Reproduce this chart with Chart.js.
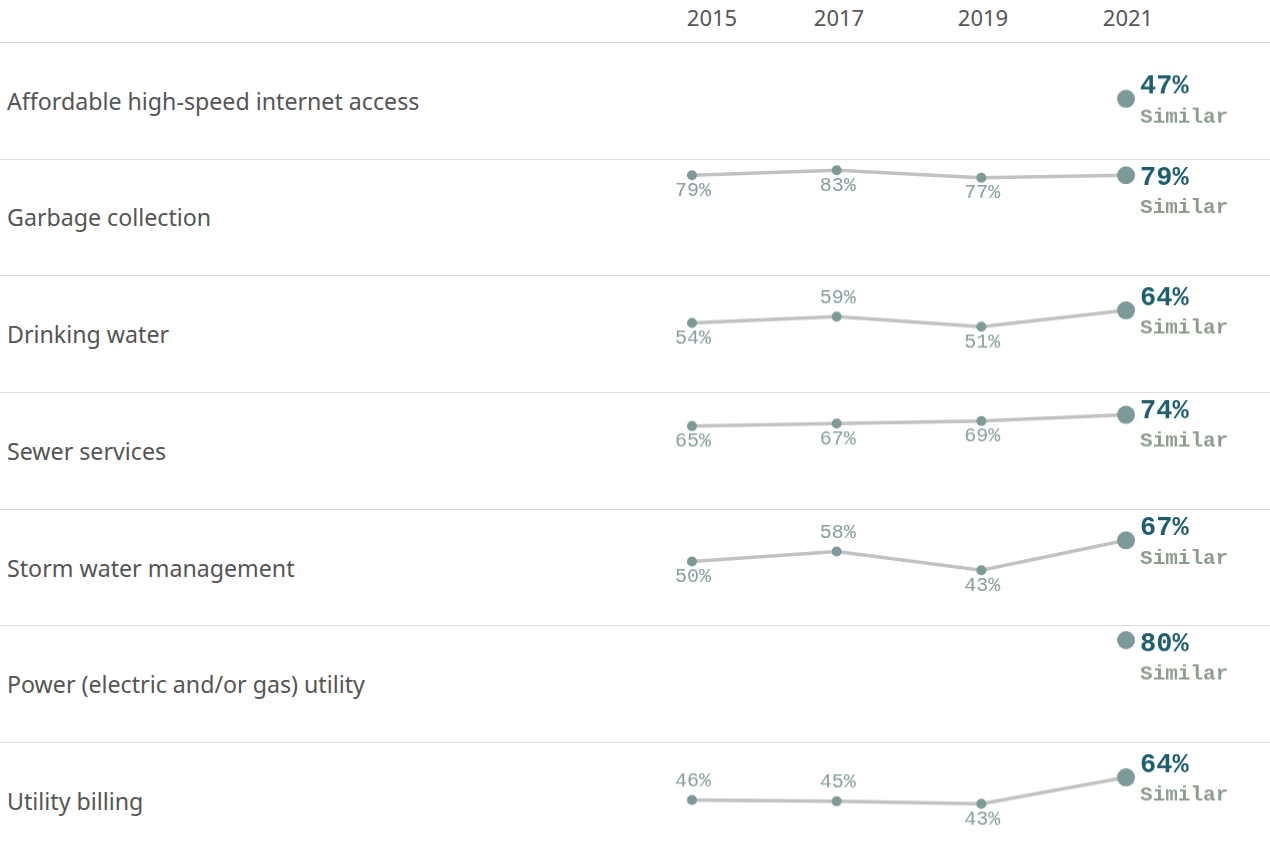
<!DOCTYPE html>
<html>
<head>
<meta charset="utf-8">
<script src="https://cdn.jsdelivr.net/npm/chart.js@4.4.1/dist/chart.umd.min.js"></script>
<style>
  body { margin: 0; background: #fff; font-family: "Noto Sans", sans-serif; }
  #page { position: relative; width: 1270px; height: 858px; overflow: hidden; }
  .year { position: absolute; top: 2px; width: 80px; margin-left: -40px; text-align: center; font-size: 22px; line-height: 30px; color: #555; }
  .row { position: absolute; left: 0; width: 1270px; height: 116.67px; border-top: 1px solid #d9d9d9; box-sizing: border-box; }
  .label { position: absolute; left: 7px; top: 0; bottom: 0; display: flex; align-items: center; font-size: 23.2px; color: #555; }
  .plot { position: absolute; left: 660px; top: 0; width: 610px; height: 100%; }
</style>
</head>
<body>
<div id="page"></div>
<script>
const years = [2015, 2017, 2019, 2021];
const yearLabels = ['2015', '2017', '2019', '2021'];
const services = [
    'Affordable high-speed internet access',
    'Garbage collection',
    'Drinking water',
    'Sewer services',
    'Storm water management',
    'Power (electric and/or gas) utility',
    'Utility billing'
];
const internetValues = [null, null, null, 47];
const garbageValues = [79, 83, 77, 79];
const drinkingValues = [54, 59, 51, 64];
const sewerValues = [65, 67, 69, 74];
const stormValues = [50, 58, 43, 67];
const powerValues = [null, null, null, 80];
const billingValues = [46, 45, 43, 64];
const comparisons = ['Similar', 'Similar', 'Similar', 'Similar', 'Similar', 'Similar', 'Similar'];

const seriesValues = [internetValues, garbageValues, drinkingValues, sewerValues, stormValues, powerValues, billingValues];

// which of the older labels sit above their point (1) instead of below (0)
const labelAbove = [
    [0, 0, 0], [0, 0, 0], [0, 1, 0], [0, 0, 0], [0, 1, 0], [0, 0, 0], [1, 1, 0]
];

const ROW_TOP = 42;
const ROW_H = 116.67;
const yearCenter = [712, 839, 983, 1128];

const page = document.getElementById('page');

yearLabels.forEach((txt, i) => {
    const s = document.createElement('div');
    s.className = 'year';
    s.style.left = yearCenter[i] + 'px';
    s.textContent = txt;
    page.appendChild(s);
});

const pointLabels = {
    id: 'pointLabels',
    afterDatasetsDraw(chart, args, opts) {
        const ctx = chart.ctx;
        const meta = chart.getDatasetMeta(0);
        const values = opts.values;
        const last = values.length - 1;
        ctx.save();
        ctx.textBaseline = 'middle';
        meta.data.forEach((pt, i) => {
            const v = values[i];
            if (v == null) return;
            if (i === last) {
                const vy = Math.max(pt.y - 12, 18);
                ctx.textAlign = 'left';
                ctx.font = 'bold 27px "Liberation Mono"';
                ctx.fillStyle = '#1f5e6e';
                ctx.fillText(v + '%', pt.x + 14, vy);
                ctx.font = 'bold 21px "Liberation Mono"';
                ctx.fillStyle = '#8d9d8d';
                ctx.fillText(opts.note, pt.x + 14, vy + 30);
            } else {
                ctx.textAlign = 'center';
                ctx.font = '20px "Liberation Mono"';
                ctx.fillStyle = '#86a0a0';
                ctx.fillText(v + '%', pt.x + 1, opts.above[i] ? pt.y - 19 : pt.y + 15);
            }
        });
        ctx.restore();
    }
};

services.forEach((name, r) => {
    const row = document.createElement('div');
    row.className = 'row';
    row.style.top = (ROW_TOP + r * ROW_H) + 'px';
    const label = document.createElement('div');
    label.className = 'label';
    label.textContent = name;
    const plot = document.createElement('div');
    plot.className = 'plot';
    const canvas = document.createElement('canvas');
    plot.appendChild(canvas);
    row.appendChild(label);
    row.appendChild(plot);
    page.appendChild(row);

    const values = seriesValues[r];

    new Chart(canvas, {
        type: 'line',
        data: {
            datasets: [{
                data: years.map((y, i) => ({ x: y, y: values[i] })),
                borderColor: '#c2c2c2',
                borderWidth: 3.5,
                pointRadius: [5, 5, 5, 9],
                pointBackgroundColor: '#7d9a9a',
                pointBorderWidth: 0,
                tension: 0,
                clip: false
            }]
        },
        options: {
            responsive: true,
            maintainAspectRatio: false,
            animation: false,
            layout: { padding: 0, autoPadding: false },
            plugins: {
                legend: { display: false },
                tooltip: { enabled: false },
                pointLabels: { values: values, note: comparisons[r], above: labelAbove[r] }
            },
            scales: {
                x: { type: 'linear', min: 2014.558, max: 2022.99, display: false },
                y: { min: -1.3, max: 91.2, display: false }
            }
        },
        plugins: [pointLabels]
    });
});
</script>
</body>
</html>
